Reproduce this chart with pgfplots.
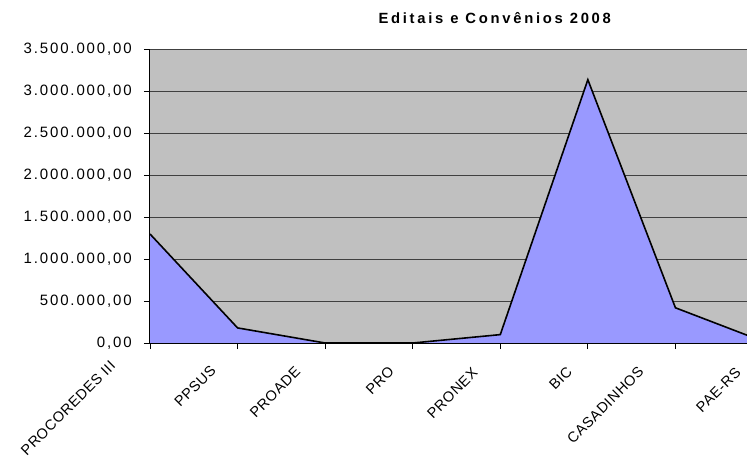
\documentclass[border=0pt]{standalone}
\usepackage{pgfplots}
\pgfplotsset{compat=1.18}
\usepackage{fontspec}
\setmainfont{Liberation Sans}
\newfontfamily\ylabfont[LetterSpace=12.5]{Liberation Sans}
\newfontfamily\xlabfont[LetterSpace=4]{Liberation Sans}
\newfontfamily\titlefont[LetterSpace=18.5]{Liberation Sans}
\definecolor{areafill}{HTML}{9999FF}
\definecolor{plotbg}{HTML}{C0C0C0}
\begin{document}
\begin{tikzpicture}[lab/.style={anchor=north east, rotate=45, inner sep=0pt, font=\xlabfont\fontsize{14.5}{16}\selectfont}]
\begin{axis}[
  at={(0pt,0pt)}, anchor=south west,
  scale only axis, width=597pt, height=293.5pt,
  xmin=0, xmax=6.8174, ymin=0, ymax=3500000,
  axis background/.style={fill=plotbg},
  axis x line*=bottom, axis y line*=left,
  axis line style={draw=none},
  ytick={0,500000,1000000,1500000,2000000,2500000,3000000,3500000},
  xtick={0,1,2,3,4,5,6}, xticklabels={},
  ymajorgrids, grid style={black!75, line width=0.8pt},
  tick style={black, line width=0.8pt},
  tick align=outside, major tick length=6pt,
  scaled y ticks=false,
  yticklabel style={font=\ylabfont\fontsize{15}{17}\selectfont, anchor=east, inner sep=0pt, xshift=-12pt,
    /pgf/number format/.cd, fixed, fixed zerofill, precision=2, use comma, 1000 sep={.}, assume math mode=true},
  clip mode=individual,
]
\addplot[fill=areafill, draw=none] coordinates {
  (0,1300000) (1,180000) (2,0) (3,0) (4,100000) (5,3140000) (6,420000) (7,20000)
} \closedcycle;
\addplot[black, line width=1.6pt, line join=miter] coordinates {
  (0,1300000) (1,180000) (2,0) (3,0) (4,100000) (5,3140000) (6,420000) (7,20000)
};
\draw[black, line width=1pt] (rel axis cs:0,1) -- (rel axis cs:0,0) -- (rel axis cs:1,0);
\node[lab] at ([xshift=-41pt,yshift=-16.5pt]axis cs:0,0) {PROCOREDES III};
\node[lab] at ([xshift=-28pt,yshift=-21pt]axis cs:1,0) {PPSUS};
\node[lab] at ([xshift=-31pt,yshift=-22.5pt]axis cs:2,0) {PROADE};
\node[lab] at ([xshift=-25pt,yshift=-22.5pt]axis cs:3,0) {PRO};
\node[lab] at ([xshift=-29pt,yshift=-23.5pt]axis cs:4,0) {PRONEX};
\node[lab] at ([xshift=-22pt,yshift=-22.5pt]axis cs:5,0) {BIC};
\node[lab] at ([xshift=-38pt,yshift=-22.5pt]axis cs:6,0) {CASADINHOS};
\node[lab] at ([xshift=-28.5pt,yshift=-23.5pt]axis cs:7,0) {PAE-RS};
\end{axis}
\node[anchor=base west, inner sep=0pt, font=\titlefont\bfseries\fontsize{14.8}{17}\selectfont] at (228.3pt,319.7pt) {Editais e Convênios 2008};
\pgfresetboundingbox
\path[use as bounding box] (-150pt,-118pt) rectangle (597pt,343pt);
\end{tikzpicture}
\end{document}
